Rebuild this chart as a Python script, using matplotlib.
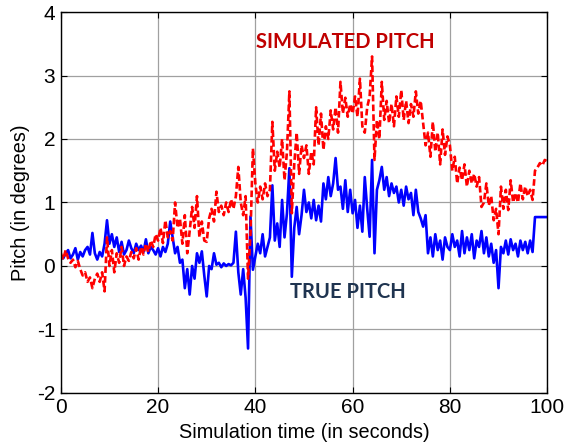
import numpy as np
import matplotlib
matplotlib.use('Agg')
import matplotlib.pyplot as plt

# sample times every 0.5 s, 0..100
time_s = np.arange(0, 100.5, 0.5)

# true pitch (deg)
true_pitch = [
    0.15, 0.12, 0.20, 0.25, 0.12, 0.18, 0.28, 0.10, 0.22, 0.15,
    0.25, 0.30, 0.18, 0.52, 0.20, 0.10, 0.22, 0.15, 0.35, 0.72,
    0.35, 0.50, 0.30, 0.45, 0.22, 0.38, 0.18, 0.25, 0.40, 0.28,
    0.20, 0.35, 0.25, 0.32, 0.22, 0.42, 0.20, 0.30, 0.25, 0.18,
    0.28, 0.15, 0.30, 0.22, 0.35, 0.70, 0.45, 0.20, 0.30, 0.05,
    0.10, -0.35, -0.05, -0.45, 0.00, -0.20, 0.20, 0.05, 0.23, -0.15,
    -0.48, 0.00, -0.05, 0.20, 0.02, 0.05, -0.02, 0.04, 0.00, 0.03,
    0.01, 0.05, 0.54, -0.10, -0.45, -0.05, -0.50, -1.30, 0.78, -0.06,
    0.15, 0.35, 0.20, 0.50, 0.15, 0.30, 0.45, 1.27, 0.40, 0.67,
    0.30, 1.04, 0.45, 0.83, 1.54, -0.17, 0.60, 0.93, 0.50, 0.80,
    1.20, 0.85, 1.00, 0.75, 1.04, 0.72, 0.95, 0.70, 1.30, 1.05,
    1.40, 1.10, 1.30, 1.70, 1.20, 1.25, 0.90, 1.35, 0.85, 1.20,
    0.83, 1.04, 0.60, 0.95, 0.54, 1.40, 0.90, 0.46, 1.67, 0.20,
    1.20, 1.35, 1.56, 1.20, 1.40, 1.10, 1.30, 1.15, 1.25, 1.00,
    1.20, 0.95, 1.25, 1.05, 1.15, 0.80, 1.20, 0.85, 0.75, 0.62,
    0.80, 0.20, 0.45, 0.15, 0.50, 0.25, 0.40, 0.10, 0.45, 0.30,
    0.25, 0.50, 0.30, 0.40, 0.15, 0.55, 0.20, 0.45, 0.25, 0.50,
    0.12, 0.40, 0.30, 0.55, 0.20, 0.45, 0.15, 0.35, 0.05, 0.25,
    -0.35, 0.30, 0.20, 0.40, 0.18, 0.42, 0.25, 0.35, 0.15, 0.40,
    0.25, 0.38, 0.20, 0.40, 0.22, 0.77, 0.77, 0.77, 0.77, 0.77,
    0.77,
]

# simulated pitch (deg)
sim_pitch = [
    0.20, 0.10, 0.25, 0.12, 0.05, 0.10, -0.02, 0.08, -0.05, -0.15,
    -0.10, -0.25, -0.18, -0.35, -0.20, -0.12, -0.25, -0.10, -0.40, 0.45,
    0.00, 0.25, -0.10, 0.20, 0.05, 0.30, 0.00, 0.15, 0.08, 0.22,
    0.12, 0.28, 0.10, 0.30, 0.18, 0.35, 0.22, 0.40, 0.30, 0.50,
    0.40, 0.60, 0.36, 0.72, 0.45, 0.55, 0.40, 1.00, 0.60, 0.75,
    0.35, 0.80, 0.20, 0.55, 0.93, 0.60, 1.10, 0.45, 0.70, 0.40,
    0.38, 0.75, 0.90, 0.70, 1.17, 0.85, 0.95, 0.80, 1.00, 0.85,
    1.05, 0.90, 1.10, 1.56, 1.00, 0.80, 1.10, -0.20, 0.50, 1.85,
    1.30, 1.00, 1.25, 1.05, 1.30, 1.10, 1.20, 2.27, 1.50, 1.80,
    1.55, 2.00, 1.35, 1.80, 2.75, 0.83, 1.60, 2.10, 1.45, 1.90,
    1.70, 1.90, 1.45, 1.80, 1.60, 2.50, 1.90, 2.40, 1.83, 2.20,
    2.00, 2.45, 2.15, 2.50, 2.10, 2.90, 2.40, 2.65, 2.35, 2.55,
    2.40, 2.67, 2.35, 2.95, 2.20, 2.10, 2.50, 2.67, 3.30, 1.67,
    2.30, 2.00, 2.90, 2.30, 2.60, 2.25, 2.55, 2.20, 2.67, 2.35,
    2.77, 2.30, 2.60, 2.25, 2.55, 2.35, 2.75, 2.40, 2.60, 2.25,
    1.90, 2.10, 1.72, 2.27, 1.80, 2.10, 1.60, 2.15, 1.75, 2.04,
    1.90, 1.50, 1.72, 1.30, 1.55, 1.35, 1.60, 1.25, 1.50, 1.30,
    1.45, 1.25, 1.40, 0.93, 1.00, 1.30, 0.95, 1.10, 0.72, 0.90,
    0.50, 1.25, 0.90, 1.20, 0.88, 1.35, 1.00, 1.15, 1.00, 1.30,
    1.05, 1.25, 1.10, 1.20, 1.04, 1.50, 1.55, 1.62, 1.58, 1.67,
    1.65,
]

plt.rcParams['font.family'] = ['Liberation Sans', 'DejaVu Sans']
plt.rcParams['axes.unicode_minus'] = False

fig = plt.figure(figsize=(5.79, 4.45), dpi=100)
ax = fig.add_axes([0.105, 0.117, 0.84, 0.856])

ax.plot(time_s, true_pitch, color='#0000ff', lw=1.9)
ax.plot(time_s, sim_pitch, color='#ff0000', lw=1.9, ls='--', dashes=(2.5, 1.2))

ax.set_xlim(0, 100)
ax.set_ylim(-2, 4)
ax.set_xticks(np.arange(0, 101, 20))
ax.set_yticks(np.arange(-2, 5, 1))
ax.grid(True, color='#a0a0a0', lw=0.9)
ax.tick_params(direction='in', top=True, right=True, labelsize=15, length=4,
               pad=4)
for sp in ax.spines.values():
    sp.set_linewidth(1.0)

ax.set_xlabel('Simulation time (in seconds)', fontsize=14.3, labelpad=4)
ax.set_ylabel('Pitch (in degrees)', fontsize=14.3, labelpad=5)

ax.text(58.6, 3.53, 'SIMULATED PITCH', color='#c00000', fontsize=14.5,
        fontweight='bold', ha='center', va='center',
        family=['Lato', 'DejaVu Sans'])
ax.text(59, -0.41, 'TRUE PITCH', color='#1f3450', fontsize=14.5,
        fontweight='bold', ha='center', va='center',
        family=['Lato', 'DejaVu Sans'])

plt.savefig('out.png', dpi=100)
